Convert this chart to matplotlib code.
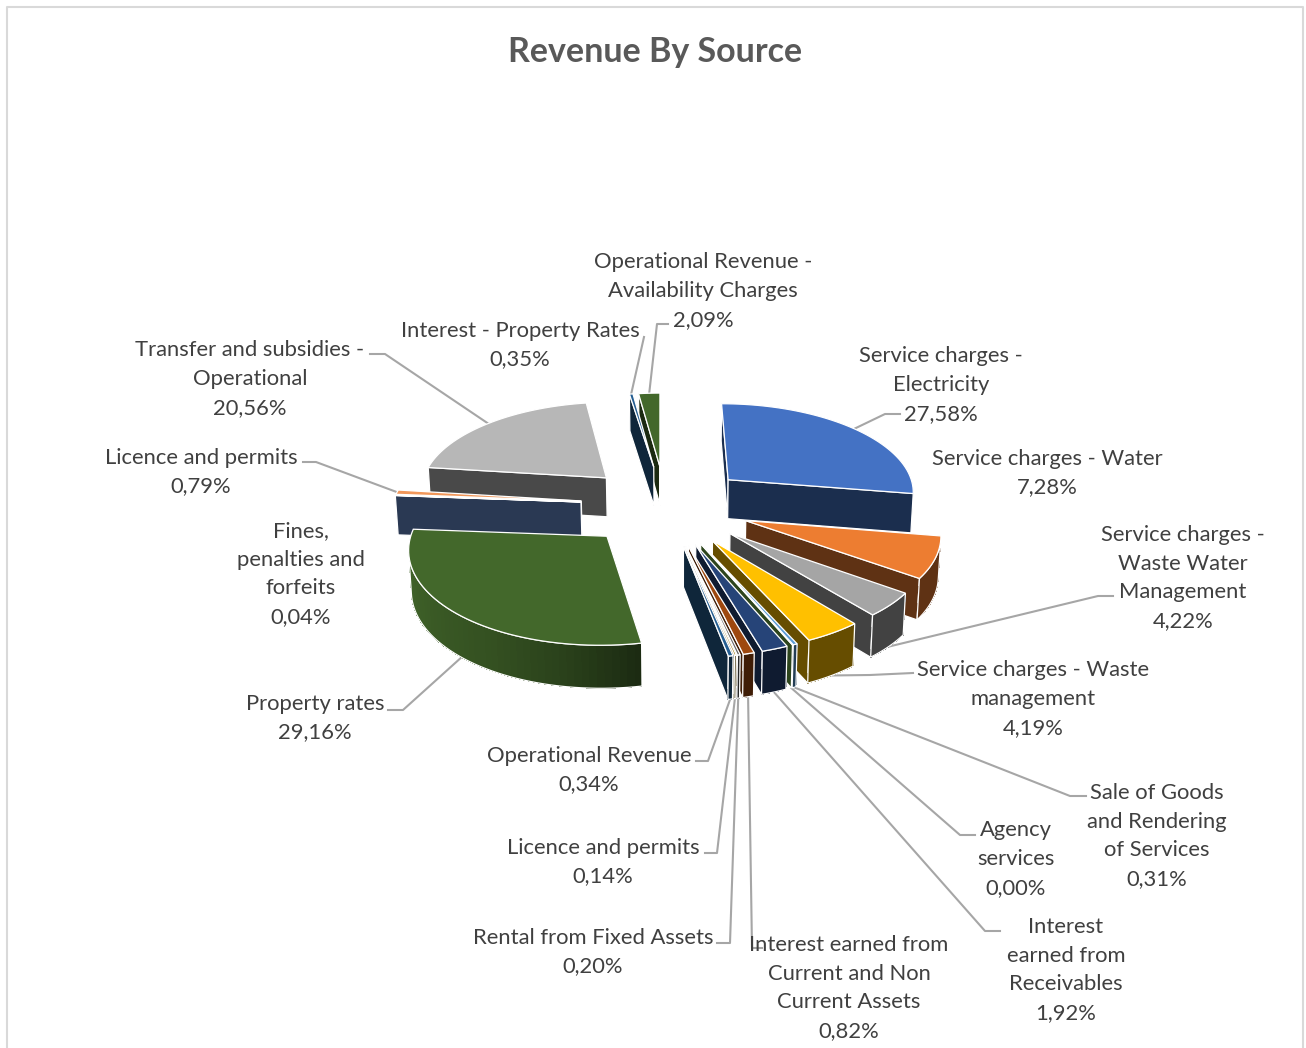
import numpy as np
import matplotlib
matplotlib.use('Agg')
import matplotlib.pyplot as plt
from matplotlib.patches import Polygon

plt.rcParams['font.family'] = ['Lato', 'DejaVu Sans']

# Revenue shares, clockwise from 12 o'clock
names = [
    'Service charges -\nElectricity', 'Service charges - Water',
    'Service charges -\nWaste Water\nManagement', 'Service charges - Waste\nmanagement',
    'Sale of Goods\nand Rendering\nof Services', 'Agency\nservices',
    'Interest\nearned from\nReceivables', 'Interest earned from\nCurrent and Non\nCurrent Assets',
    'Rental from Fixed Assets', 'Licence and permits', 'Operational Revenue',
    'Property rates', 'Fines,\npenalties and\nforfeits', 'Licence and permits',
    'Transfer and subsidies -\nOperational', 'Interest - Property Rates',
    'Operational Revenue -\nAvailability Charges',
]
shares = [27.58, 7.28, 4.22, 4.19, 0.31, 0.00, 1.92, 0.82, 0.20, 0.14, 0.34,
          29.16, 0.04, 0.79, 20.56, 0.35, 2.09]
colors = ['#4472C4', '#ED7D31', '#A5A5A5', '#FFC000', '#5B9BD5', '#70AD47',
          '#264478', '#9E480E', '#636363', '#997300', '#255E91',
          '#43682B', '#698ED0', '#F1975A', '#B7B7B7', '#255E91', '#43682B']

# Label centres in pixels
label_x = [941, 1047, 1183, 1033, 1157, 1016, 1066, 849, 593, 603, 589,
           315, 301, 201, 250, 520, 703]
label_y = [385, 473, 578, 699, 836, 859, 970, 988, 952, 862, 770,
           718, 574, 472, 379, 345, 291]

# Leader lines start at the label and run to the slice; None means no leader
leader_start = [
    [(900, 414), (885, 414)], None, [(1113, 596), (1098, 596)], [(913, 673), (870, 675)],
    [(1086, 796), (1070, 796)], [(975, 835), (960, 835)], [(1000, 931), (985, 931)],
    [(762, 948), (752, 948)], [(717, 943), (730, 943)], [(705, 853), (717, 853)],
    [(696, 761), (708, 761)], [(388, 710), (403, 710)], None, [(303, 462), (316, 462)],
    [(370, 354), (385, 354)], [(644, 337)], [(668, 324), (657, 324)],
]

# Perspective of the pie plane (unit radius)
CX, CY = 665.5, 505
SCALE_X, SKEW_X = 189, 72.6
TILT_Y, PERSP = -34, 0.11
EXPLODE = 0.45
SIDE = 0.4


def project(x, y, bottom=False):
    w = 1 + PERSP * y
    sx = (CX + SCALE_X * x + SKEW_X * y) / w
    sy = (CY + TILT_Y * y) / w
    if bottom:
        sx = 680 + (sx - 680) * 0.99
        sy = sy + 19.6 + 20 / w
    return sx, sy


def shade(color, k):
    return tuple(c * k for c in matplotlib.colors.to_rgb(color))


def wall_shade(deg):
    # the curved wall gets lighter towards the left of the pie
    return np.interp(deg, [169, 189, 210, 252], [SIDE, 0.62, 0.77, 0.93])


def visible(pts):
    a = np.array(pts)
    x, y = a[:, 0], a[:, 1]
    return np.sum(x * np.roll(y, -1) - np.roll(x, -1) * y) > 0


fig = plt.figure(figsize=(13.06, 10.48), dpi=100)
ax = fig.add_axes([0, 0, 1, 1])
ax.set_xlim(0, 1306)
ax.set_ylim(1048, 0)
ax.axis('off')

# chart area border
ax.plot([7, 7, 1303, 1303], [1048, 7, 7, 1048], color='#D9D9D9', lw=1.5, zorder=1)

ax.text(655, 52, 'Revenue By Source', ha='center', va='center', fontsize=24.5,
        fontweight='bold', color='#595959')

edges = np.cumsum([0] + shares) / sum(shares) * 360
slices = []
for i, color in enumerate(colors):
    t0, t1 = edges[i], edges[i + 1]
    mid = np.radians((t0 + t1) / 2)
    ox, oy = EXPLODE * np.sin(mid), EXPLODE * np.cos(mid)
    n = max(2, int(np.ceil((t1 - t0) / 2)))
    ang = np.linspace(t0, t1, n + 1)
    rx = ox + np.sin(np.radians(ang))
    ry = oy + np.cos(np.radians(ang))
    slices.append(dict(color=color, ox=ox, oy=oy, ang=ang, rx=rx, ry=ry,
                       depth=oy + 0.6 * np.cos(mid)))

    # label and its leader
    pct = f'{shares[i]:.2f}'.replace('.', ',') + '%'
    ax.text(label_x[i], label_y[i], names[i] + '\n' + pct, ha='center', va='center',
            multialignment='center', fontsize=15.8, color='#404040', linespacing=1.55, zorder=5)
    if leader_start[i] is not None:
        end = project(ox + np.sin(mid), oy + np.cos(mid), bottom=np.cos(mid) < 0)
        pts = leader_start[i] + [end]
        ax.plot([p[0] for p in pts], [p[1] for p in pts], color='#A6A6A6', lw=1.5, zorder=2)

# far slices first, hidden faces are dropped by winding
for k, s in enumerate(sorted(slices, key=lambda d: -d['depth'])):
    z = 10 + k
    col = s['color']
    top_apex = project(s['ox'], s['oy'])
    bot_apex = project(s['ox'], s['oy'], True)
    top_rim = [project(x, y) for x, y in zip(s['rx'], s['ry'])]
    bot_rim = [project(x, y, True) for x, y in zip(s['rx'], s['ry'])]

    faces = [
        [top_apex, bot_apex, bot_rim[0], top_rim[0]],
        [top_apex, top_rim[-1], bot_rim[-1], bot_apex],
    ]
    for f in faces:
        if visible(f):
            ax.add_patch(Polygon(f, closed=True, fc=shade(col, SIDE), ec='white', lw=0.9, zorder=z))

    # outer wall, one quad per step so the shading can vary
    shown = []
    for j in range(len(top_rim) - 1):
        q = [top_rim[j + 1], top_rim[j], bot_rim[j], bot_rim[j + 1]]
        if visible(q):
            c = shade(col, wall_shade((s['ang'][j] + s['ang'][j + 1]) / 2))
            ax.add_patch(Polygon(q, closed=True, fc=c, ec='none', antialiased=False, zorder=z))
            shown.append(j)
    if shown:
        idx = shown + [shown[-1] + 1]
        outline = [top_rim[j] for j in idx] + [bot_rim[j] for j in idx[::-1]]
        ax.add_patch(Polygon(outline, closed=True, fill=False, ec='white', lw=0.9, zorder=z))

    ax.add_patch(Polygon([top_apex] + top_rim, closed=True, fc=col, ec='white', lw=0.9, zorder=z))

fig.savefig('out.png', dpi=100, facecolor='white')
